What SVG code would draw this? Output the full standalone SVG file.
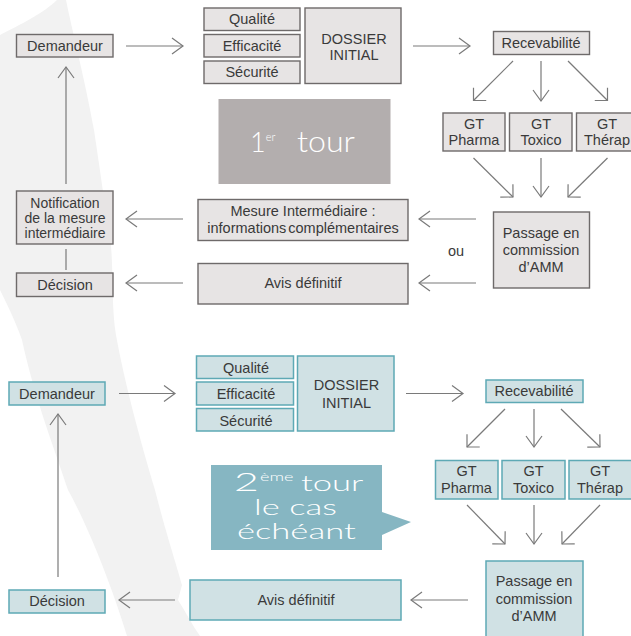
<svg xmlns="http://www.w3.org/2000/svg" width="631" height="636" viewBox="0 0 631 636">
<defs>
<marker id="ah" markerUnits="userSpaceOnUse" markerWidth="30" markerHeight="30" viewBox="-15 -15 30 30" refX="0" refY="0" orient="auto">
<path d="M-11,-8 L0,0 L-11,8" fill="none" stroke="#7a7a7a" stroke-width="1.2"/>
</marker>
<marker id="ahd" markerUnits="userSpaceOnUse" markerWidth="30" markerHeight="30" viewBox="-15 -15 30 30" refX="0" refY="0" orient="auto">
<path d="M-9,-9 L0,0 L-9,9" fill="none" stroke="#7a7a7a" stroke-width="1.2"/>
</marker>
<style>
.g rect{fill:#e7e4e4;stroke:#6e6a6a;stroke-width:1.4}
.b rect{fill:#d0e1e4;stroke:#5ea9b5;stroke-width:1.5}
text{font-family:"Liberation Sans",Arial,sans-serif;font-size:14.5px;fill:#3a3a3a;text-anchor:middle}
.c line, .c path{stroke:#7a7a7a;stroke-width:1.2;fill:none}
.a{marker-end:url(#ah)}
.d{marker-end:url(#ahd)}
text.big{font-family:Lato,"Open Sans",sans-serif;font-weight:300;fill:#ffffff;text-anchor:start}
text.sm{font-size:14px}
</style>
</defs>
<rect width="631" height="636" fill="#ffffff"/>
<path d="M57,0 L66,0 C72,30 85,80 94,130 C100,170 104,200 110,235 C114,270 111,305 116,335 C124,380 140,440 155,490 C165,530 178,570 182,585 L178,600 C186,612 192,625 200,636 L127,636 C110,580 85,520 68,490 C55,450 35,400 22,340 C15,320 5,300 0,290 L0,35 C20,25 45,12 57,0 Z" fill="#f2f2f2"/>

<g id="tour1">
<rect x="218.5" y="99" width="172" height="85" fill="#b3aeae"/>
<text class="big" x="250" y="152" style="font-size:27px">1<tspan dy="-11" style="font-size:11px">er</tspan><tspan x="297" dy="11" style="font-size:29px" textLength="58" lengthAdjust="spacingAndGlyphs">tour</tspan></text>
</g>

<g id="tour2">
<path d="M211,465 L382,465 L382,512 L411,522 L382,535 L382,550 L211,550 Z" fill="#86b6c2"/>
<text class="big" transform="scale(1.65,1)" style="font-size:21px"><tspan x="141.8" y="491" style="font-size:26px">2</tspan><tspan x="157.6" y="481" style="font-size:11px">ème</tspan><tspan x="182.4" y="491">tour</tspan><tspan x="154" y="515">le cas</tspan><tspan x="143.6" y="539">échéant</tspan></text>
</g>

<g id="t-demandeur" class="g"><rect x="16.5" y="34.5" width="96.5" height="22.5"/><text x="65" y="51">Demandeur</text></g>
<g id="t-qualite" class="g"><rect x="204" y="8" width="96" height="22.5"/><text x="252" y="24">Qualité</text></g>
<g id="t-efficacite" class="g"><rect x="204" y="34.5" width="96" height="22.5"/><text x="252" y="51">Efficacité</text></g>
<g id="t-securite" class="g"><rect x="204" y="61" width="96" height="22.5"/><text x="252" y="77">Sécurité</text></g>
<g id="t-dossier" class="g"><rect x="305" y="8" width="96" height="75.5"/><text x="354" y="43.5">DOSSIER</text><text x="354" y="60">INITIAL</text></g>
<g id="t-recevabilite" class="g"><rect x="493.5" y="31.5" width="96" height="23"/><text x="541" y="48">Recevabilité</text></g>
<g id="t-gtpharma" class="g"><rect x="443" y="113" width="62" height="38"/><text x="474" y="129">GT</text><text x="474" y="145">Pharma</text></g>
<g id="t-gttoxico" class="g"><rect x="509.5" y="113" width="62.5" height="38"/><text x="541" y="129">GT</text><text x="541" y="145">Toxico</text></g>
<g id="t-gttherap" class="g"><rect x="576.5" y="113" width="64" height="38"/><text x="607" y="129">GT</text><text x="607" y="145">Thérap</text></g>
<g id="t-passage" class="g"><rect x="493.5" y="212" width="96" height="76"/><text x="541" y="238">Passage en</text><text x="541" y="255">commission</text><text x="541" y="272">d’AMM</text></g>
<g id="t-mesure" class="g"><rect x="198" y="199.5" width="210" height="41"/><text x="303" y="216">Mesure Intermédiaire :</text><text x="303" y="233" word-spacing="-2">informations complémentaires</text></g>
<g id="t-avis" class="g"><rect x="198" y="263.5" width="210" height="40.5"/><text x="303" y="288">Avis définitif</text></g>
<g id="t-notification" class="g"><rect x="16.5" y="191" width="96.5" height="53"/><text class="sm" x="65" y="208">Notification</text><text class="sm" x="65" y="223">de la mesure</text><text class="sm" x="65" y="238">intermédiaire</text></g>
<g id="t-decision" class="g"><rect x="16.5" y="273" width="96.5" height="23.5"/><text x="65" y="290">Décision</text></g>
<text id="t-ou" x="456" y="256">ou</text>

<g id="b-demandeur" class="b"><rect x="9" y="382" width="96" height="23"/><text x="57" y="399">Demandeur</text></g>
<g id="b-qualite" class="b"><rect x="196.5" y="356" width="97" height="22.5"/><text x="246" y="373">Qualité</text></g>
<g id="b-efficacite" class="b"><rect x="196.5" y="382" width="97" height="23"/><text x="246" y="399">Efficacité</text></g>
<g id="b-securite" class="b"><rect x="196.5" y="408.5" width="97" height="22.5"/><text x="246" y="426">Sécurité</text></g>
<g id="b-dossier" class="b"><rect x="297.5" y="356" width="96.5" height="75"/><text x="346.5" y="390">DOSSIER</text><text x="346.5" y="408">INITIAL</text></g>
<g id="b-recevabilite" class="b"><rect x="486" y="380" width="97" height="22.5"/><text x="534" y="396">Recevabilité</text></g>
<g id="b-gtpharma" class="b"><rect x="435.5" y="460.5" width="62.5" height="38.5"/><text x="466.5" y="476">GT</text><text x="466.5" y="493">Pharma</text></g>
<g id="b-gttoxico" class="b"><rect x="502" y="460.5" width="63" height="38.5"/><text x="533.5" y="476">GT</text><text x="533.5" y="493">Toxico</text></g>
<g id="b-gttherap" class="b"><rect x="569" y="460.5" width="64" height="38.5"/><text x="600" y="476">GT</text><text x="600" y="493">Thérap</text></g>
<g id="b-passage" class="b"><rect x="486" y="561" width="97" height="76"/><text x="534" y="586">Passage en</text><text x="534" y="604">commission</text><text x="534" y="621">d’AMM</text></g>
<g id="b-avis" class="b"><rect x="190" y="580" width="211" height="40"/><text x="296" y="605">Avis définitif</text></g>
<g id="b-decision" class="b"><rect x="9" y="590" width="96" height="23"/><text x="57" y="606">Décision</text></g>

<g id="connectors" class="c">
<line class="a" x1="126" y1="46" x2="183" y2="46"/>
<line class="a" x1="413" y1="46" x2="470" y2="46"/>
<line class="d" x1="513" y1="61" x2="473.5" y2="100.5"/>
<line class="a" x1="541" y1="61" x2="541" y2="101"/>
<line class="d" x1="568" y1="61" x2="607.5" y2="100.5"/>
<line class="d" x1="473.5" y1="158" x2="513" y2="197"/>
<line class="a" x1="541" y1="158" x2="541" y2="197"/>
<line class="d" x1="607.5" y1="158" x2="568" y2="197"/>
<line class="a" x1="476" y1="219" x2="419" y2="219"/>
<line class="a" x1="476" y1="283" x2="419" y2="283"/>
<line class="a" x1="183" y1="219" x2="126" y2="219"/>
<line class="a" x1="183" y1="283" x2="126" y2="283"/>
<line x1="66" y1="249" x2="66" y2="270"/>
<line class="a" x1="66" y1="184" x2="66" y2="67"/>

<line class="a" x1="119" y1="393.5" x2="175" y2="393.5"/>
<line class="a" x1="406" y1="393.5" x2="463" y2="393.5"/>
<line class="d" x1="505" y1="409" x2="467" y2="447"/>
<line class="a" x1="534" y1="409" x2="534" y2="447"/>
<line class="d" x1="561" y1="409" x2="600" y2="447"/>
<line class="d" x1="467" y1="505" x2="505" y2="544"/>
<line class="a" x1="534" y1="505" x2="534" y2="544"/>
<line class="d" x1="600" y1="505" x2="562" y2="544"/>
<line class="a" x1="468" y1="600" x2="411" y2="600"/>
<line class="a" x1="175" y1="600" x2="119" y2="600"/>
<line class="a" x1="58" y1="577" x2="58" y2="414"/>
</g>
</svg>
